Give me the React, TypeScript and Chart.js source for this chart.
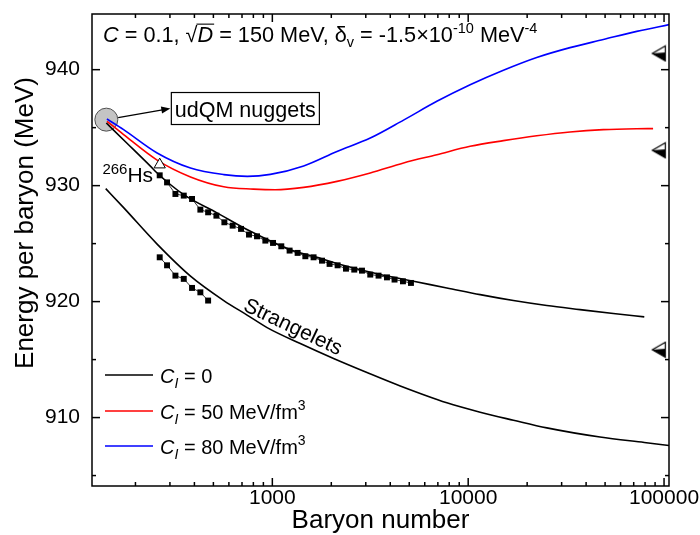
import React, { useEffect, useRef } from 'react';
import { Chart, registerables } from 'chart.js';
Chart.register(...registerables);

const FONT = "'Liberation Sans', Arial, Helvetica, sans-serif";

// ---- data ----
const udqmA = [142, 180, 239, 258, 353, 522, 773, 1237, 1625, 2405, 3556, 5260, 7780, 11510, 17020, 25200, 37240, 55080, 79260];
const udqmE0 = [935.4, 933.7, 931.66, 931.09, 929.22, 927.65, 926.06, 924.48, 923.9, 923.04, 922.33, 921.75, 921.18, 920.6, 920.09, 919.66, 919.31, 918.97, 918.68];

const redA = [143, 174, 258, 382, 565, 800, 1036, 1445, 2138, 3162, 4677, 6918, 10230, 15130, 22380, 33110, 48980, 72560, 87900];
const redE = [935.55, 934.4, 932.2, 930.75, 929.9, 929.7, 929.64, 929.85, 930.37, 931.09, 931.96, 932.67, 933.39, 933.88, 934.3, 934.63, 934.83, 934.91, 934.92];

const blueA = [143, 174, 258, 382, 565, 745, 977, 1445, 2138, 3162, 4677, 6918, 10230, 15130, 22380, 33110, 48980, 72560, 107300];
const blueE = [935.75, 934.83, 932.82, 931.52, 930.95, 930.8, 930.97, 931.7, 932.95, 934.1, 935.65, 937.27, 938.7, 939.95, 941.05, 941.9, 942.6, 943.3, 943.9];

const strA = [141, 174, 258, 382, 565, 743, 940, 1389, 2054, 3041, 4498, 7780, 11510, 17020, 25200, 47100, 79260, 106000];
const strE = [929.74, 928.1, 924.96, 922.2, 920.09, 918.84, 917.76, 916.38, 915.09, 913.88, 912.72, 911.27, 910.46, 909.77, 909.11, 908.32, 907.85, 907.59];

const nucA = [266, 290, 320, 353, 389, 429, 470, 518, 569, 627, 692, 760, 835, 921, 1008, 1111, 1225, 1346, 1474, 1624, 1793, 1960, 2154, 2377, 2620, 2869, 3162, 3486, 3848, 4207, 4644, 5102];
const nucE = [930.89, 930.28, 929.28, 929.14, 928.85, 927.93, 927.7, 927.41, 926.84, 926.55, 926.27, 925.78, 925.63, 925.26, 925.06, 924.77, 924.4, 924.2, 923.91, 923.82, 923.53, 923.25, 923.13, 922.84, 922.76, 922.67, 922.33, 922.24, 922.09, 921.9, 921.75, 921.61];

const nuc2A = [266, 290, 320, 353, 389, 429, 470];
const nuc2E = [923.82, 923.13, 922.24, 921.96, 921.18, 920.8, 920.09];

const hsA = [266];
const hsE = [931.81];

const limA = [94000, 94000, 94000];
const limE = [941.4, 933.05, 915.85];

const nuggetA = [142];
const nuggetE = [935.69];

const xTickValues = [1000, 10000, 100000];
const yTickValues = [910, 920, 930, 940];
const yMinorTicks = [905, 915, 925, 935];
const legendLabels = ['0', '50 MeV/fm', '80 MeV/fm'];
const legendColors = ['#000000', '#ff0000', '#0000ff'];

const X_MIN = 120, X_MAX = 106000, Y_MIN = 904.1, Y_MAX = 944.8;

function pts(xs: number[], ys: number[]) {
  return xs.map((x, i) => ({ x, y: ys[i] }));
}

function makeHalfTriangle(): HTMLCanvasElement {
  const c = document.createElement('canvas');
  c.width = 16; c.height = 18;
  const g = c.getContext('2d')!;
  g.beginPath(); g.moveTo(1.5, 9); g.lineTo(14.5, 1.5); g.lineTo(14.5, 16.5); g.closePath();
  g.fillStyle = '#fff'; g.fill();
  g.beginPath(); g.moveTo(1.5, 9); g.lineTo(14.5, 8); g.lineTo(14.5, 16.5); g.closePath();
  g.fillStyle = '#000'; g.fill();
  g.beginPath(); g.moveTo(1.5, 9); g.lineTo(14.5, 1.5); g.lineTo(14.5, 16.5); g.closePath();
  g.lineWidth = 1.2; g.strokeStyle = '#000'; g.stroke();
  return c;
}

type Run = { t: string; size?: number; italic?: boolean; dy?: number; over?: boolean };
function drawRuns(ctx: CanvasRenderingContext2D, x: number, y: number, runs: Run[], base: number) {
  for (const r of runs) {
    const s = r.size ?? base;
    ctx.font = `${r.italic ? 'italic ' : ''}${s}px ${FONT}`;
    ctx.fillText(r.t, x, y + (r.dy ?? 0));
    const w = ctx.measureText(r.t).width;
    if (r.over) {
      ctx.beginPath();
      ctx.moveTo(x - 1, y - s * 0.8);
      ctx.lineTo(x + w + 1, y - s * 0.8);
      ctx.lineWidth = 1.1;
      ctx.stroke();
    }
    x += w;
  }
  return x;
}

const decor = {
  id: 'decor',
  afterDatasetsDraw(chart: any) {
    const { ctx, chartArea: a, scales } = chart;
    const xs = scales.x, ys = scales.y;
    ctx.save();
    ctx.strokeStyle = '#000';
    ctx.fillStyle = '#000';
    ctx.lineWidth = 1.5;
    ctx.strokeRect(a.left, a.top, a.right - a.left, a.bottom - a.top);
    const line = (x1: number, y1: number, x2: number, y2: number) => {
      ctx.beginPath(); ctx.moveTo(x1, y1); ctx.lineTo(x2, y2); ctx.stroke();
    };
    for (const v of [...yTickValues, ...yMinorTicks]) {
      const y = ys.getPixelForValue(v);
      const len = yTickValues.includes(v) ? 8 : 4;
      line(a.left, y, a.left + len, y);
      line(a.right, y, a.right - len, y);
    }
    for (let k = 2; k <= 5; k++) {
      for (let m = 1; m <= 9; m++) {
        const v = m * Math.pow(10, k);
        if (v < X_MIN || v > X_MAX) continue;
        const x = xs.getPixelForValue(v);
        const len = m === 1 ? 8 : 4;
        line(x, a.bottom, x, a.bottom - len);
        line(x, a.top, x, a.top + len);
      }
    }

    // axis titles
    ctx.textBaseline = 'alphabetic';
    ctx.font = `26px ${FONT}`;
    ctx.textAlign = 'center';
    ctx.fillText('Baryon number', (a.left + a.right) / 2, 528);
    ctx.save();
    ctx.translate(33, 223);
    ctx.rotate(-Math.PI / 2);
    ctx.fillText('Energy per baryon (MeV)', 0, 0);
    ctx.restore();

    ctx.textAlign = 'left';
    // top parameter text
    drawRuns(ctx, 103, a.top + 27.5, [
      { t: 'C', italic: true },
      { t: ' = 0.1, ' },
      { t: '\u221A' },
      { t: 'D', italic: true, over: true },
      { t: ' = 150 MeV, ' },
      { t: '\u03B4' },
      { t: 'v', size: 14.5, dy: 5 },
      { t: ' = -1.5\u00D710' },
      { t: '-10', size: 14.5, dy: -9 },
      { t: ' MeV' },
      { t: '-4', size: 14.5, dy: -9 },
    ], 21.7);

    // legend
    const ly = [375, 411, 446];
    legendLabels.forEach((lab, i) => {
      ctx.strokeStyle = legendColors[i];
      ctx.lineWidth = 1.6;
      line(105, ly[i], 153, ly[i]);
      ctx.strokeStyle = '#000';
      const runs: Run[] = [
        { t: 'C', italic: true },
        { t: 'I', italic: true, size: 14, dy: 5 },
        { t: ' = ' + lab },
      ];
      if (i > 0) runs.push({ t: '3', size: 14, dy: -9 });
      drawRuns(ctx, 160, ly[i] + 7.5, runs, 20);
    });

    // udQM nuggets box + arrow
    const cx = xs.getPixelForValue(nuggetA[0]);
    const cy = ys.getPixelForValue(nuggetE[0]);
    const bx = xs.getPixelForValue(305);
    const by = ys.getPixelForValue(936.65);
    ctx.font = `21.5px ${FONT}`;
    const tw = ctx.measureText('udQM nuggets').width;
    ctx.fillStyle = '#fff';
    ctx.fillRect(bx, by - 16, tw + 7, 32);
    ctx.lineWidth = 1.2;
    ctx.strokeRect(bx, by - 16, tw + 7, 32);
    ctx.fillStyle = '#000';
    ctx.fillText('udQM nuggets', bx + 3.5, by + 8);
    const ang = Math.atan2(by - cy, bx - cx);
    const sx = cx + 12 * Math.cos(ang), sy = cy + 12 * Math.sin(ang);
    const ex = bx - 1, ey = by;
    ctx.lineWidth = 1.2;
    line(sx, sy, ex - 8 * Math.cos(ang), ey - 8 * Math.sin(ang));
    ctx.beginPath();
    ctx.moveTo(ex, ey);
    ctx.lineTo(ex - 9 * Math.cos(ang) + 3.5 * Math.sin(ang), ey - 9 * Math.sin(ang) - 3.5 * Math.cos(ang));
    ctx.lineTo(ex - 9 * Math.cos(ang) - 3.5 * Math.sin(ang), ey - 9 * Math.sin(ang) + 3.5 * Math.cos(ang));
    ctx.closePath();
    ctx.fill();

    // 266Hs label
    const hx = xs.getPixelForValue(hsA[0]);
    const hy = ys.getPixelForValue(hsE[0]);
    ctx.font = `21px ${FONT}`;
    const hsW = ctx.measureText('Hs').width;
    ctx.font = `15px ${FONT}`;
    const supW = ctx.measureText('266').width;
    const hsX = hx - 6.6 - hsW;
    ctx.fillText('266', hsX - supW, hy + 9.5);
    ctx.font = `21px ${FONT}`;
    ctx.fillText('Hs', hsX, hy + 17.7);

    // Strangelets label
    const stx = xs.getPixelForValue(1272);
    const sty = ys.getPixelForValue(917.76);
    ctx.save();
    ctx.translate(stx, sty);
    ctx.rotate(0.443);
    ctx.textAlign = 'center';
    ctx.textBaseline = 'middle';
    ctx.font = `21px ${FONT}`;
    ctx.fillText('Strangelets', 0, 0);
    ctx.restore();

    ctx.restore();
  },
};

export default function App() {
  const ref = useRef<HTMLCanvasElement>(null);
  useEffect(() => {
    const canvas = ref.current!;
    Chart.defaults.font.family = FONT;
    const tri = makeHalfTriangle();
    const curve = (color: string, xs: number[], ys: number[]) => ({
      data: pts(xs, ys),
      borderColor: color,
      backgroundColor: color,
      borderWidth: 1.6,
      pointRadius: 0,
      cubicInterpolationMode: 'monotone' as const,
      fill: false,
    });
    const chart = new Chart(canvas, {
      type: 'line',
      data: {
        datasets: [
          curve('#000000', udqmA, udqmE0),
          curve('#000000', strA, strE),
          curve('#ff0000', redA, redE),
          curve('#0000ff', blueA, blueE),
          {
            data: pts(nucA, nucE),
            borderColor: '#000', borderWidth: 0.8, tension: 0,
            pointStyle: 'rect', pointRadius: 4.2, pointBackgroundColor: '#000', pointBorderWidth: 0,
          },
          {
            data: pts(nuc2A, nuc2E),
            borderColor: '#000', borderWidth: 0.8, tension: 0,
            pointStyle: 'rect', pointRadius: 4.2, pointBackgroundColor: '#000', pointBorderWidth: 0,
          },
          {
            data: pts(hsA, hsE), showLine: false, order: -1,
            pointStyle: 'triangle', pointRadius: 6.5,
            pointBackgroundColor: '#fff', pointBorderColor: '#000', pointBorderWidth: 1,
          },
          {
            data: pts(limA, limE), showLine: false,
            pointStyle: tri, pointRadius: 8,
          },
          {
            data: pts(nuggetA, nuggetE), showLine: false, order: 10,
            pointStyle: 'circle', pointRadius: 11.5,
            pointBackgroundColor: '#c4c4c4', pointBorderColor: '#505050', pointBorderWidth: 1,
          },
        ] as any,
      },
      options: {
        responsive: false,
        animation: false,
        devicePixelRatio: 1,
        events: [],
        layout: { padding: { left: 0, right: 31, top: 14, bottom: 0 } },
        plugins: { legend: { display: false }, tooltip: { enabled: false } },
        scales: {
          x: {
            type: 'logarithmic',
            min: X_MIN, max: X_MAX,
            grid: { display: false, drawTicks: false },
            border: { display: false },
            afterBuildTicks: (s: any) => { s.ticks = xTickValues.map((v) => ({ value: v })); },
            afterFit: (s: any) => { s.height = 49; s.paddingLeft = 0; s.paddingRight = 0; },
            ticks: {
              padding: 0, color: '#000', maxRotation: 0, autoSkip: false,
              font: { size: 21, family: FONT },
              callback: (v: any) => String(v),
            },
          },
          y: {
            type: 'linear',
            min: Y_MIN, max: Y_MAX,
            grid: { display: false, drawTicks: false },
            border: { display: false },
            afterBuildTicks: (s: any) => { s.ticks = yTickValues.map((v) => ({ value: v })); },
            afterFit: (s: any) => { s.width = 92; s.paddingTop = 0; s.paddingBottom = 0; },
            ticks: {
              padding: 12, color: '#000', autoSkip: false,
              font: { size: 21, family: FONT },
              callback: (v: any) => String(v),
            },
          },
        },
      } as any,
      plugins: [decor],
    });
    return () => chart.destroy();
  }, []);
  return (
    <div style={{ position: 'absolute', left: 0, top: 0, width: 700, height: 535, background: '#fff' }}>
      <canvas ref={ref} width={700} height={535} style={{ display: 'block', width: 700, height: 535 }} />
    </div>
  );
}
